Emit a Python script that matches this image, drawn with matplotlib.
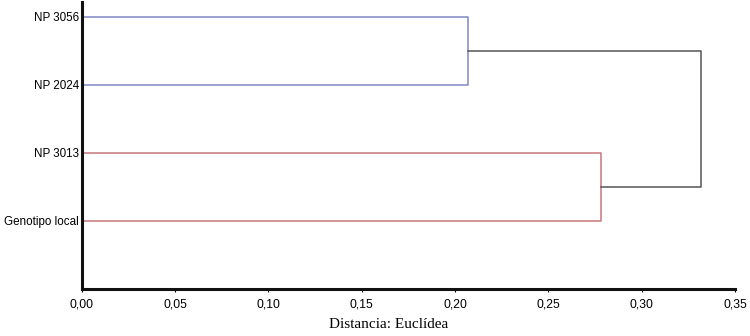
import matplotlib
matplotlib.use('Agg')
import matplotlib.pyplot as plt
from matplotlib.ticker import FuncFormatter

# leaves, top to bottom
labels = ['NP 3056', 'NP 2024', 'NP 3013', 'Genotipo local']
leaf_y = [4, 3, 2, 1]

# merge heights (Euclidean distance)
d_blue = 0.207   # NP 3056 + NP 2024
d_red = 0.278    # NP 3013 + Genotipo local
d_root = 0.332

blue = '#8088c6'
red = '#c9767b'
grey = '#555555'

fig = plt.figure(figsize=(7.5, 3.36), dpi=100)
ax = fig.add_axes([0.109, 0.14, 0.871, 0.855])

# blue cluster
ax.plot([0, d_blue, d_blue, 0], [leaf_y[0], leaf_y[0], leaf_y[1], leaf_y[1]], color=blue, lw=1.1)
# red cluster
ax.plot([0, d_red, d_red, 0], [leaf_y[2], leaf_y[2], leaf_y[3], leaf_y[3]], color=red, lw=1.1)
# root
y_b = (leaf_y[0] + leaf_y[1]) / 2
y_r = (leaf_y[2] + leaf_y[3]) / 2
ax.plot([d_blue, d_root, d_root, d_red], [y_b, y_b, y_r, y_r], color=grey, lw=1.1)

ax.set_xlim(0, 0.35)
ax.set_ylim(0, 4.22)
ax.set_xticks([0, 0.05, 0.10, 0.15, 0.20, 0.25, 0.30, 0.35])
ax.xaxis.set_major_formatter(FuncFormatter(lambda v, p: ('%.2f' % v).replace('.', ',')))
ax.set_yticks(leaf_y)
ax.set_yticklabels(labels)

for s in ['top', 'right']:
    ax.spines[s].set_visible(False)
for s in ['left', 'bottom']:
    ax.spines[s].set_linewidth(2.2)
    ax.spines[s].set_color('#111111')

ax.tick_params(axis='y', length=0, pad=2, labelsize=8.4)
ax.tick_params(axis='x', length=2, width=0.8, pad=5, labelsize=8.7)
for t in ax.get_xticklabels() + ax.get_yticklabels():
    t.set_fontfamily('Liberation Sans')

ax.set_xlabel('Distancia: Euclídea', fontfamily='Liberation Serif', fontsize=11)
ax.xaxis.set_label_coords(0.47, -0.1)

fig.savefig('out.png', dpi=100)
